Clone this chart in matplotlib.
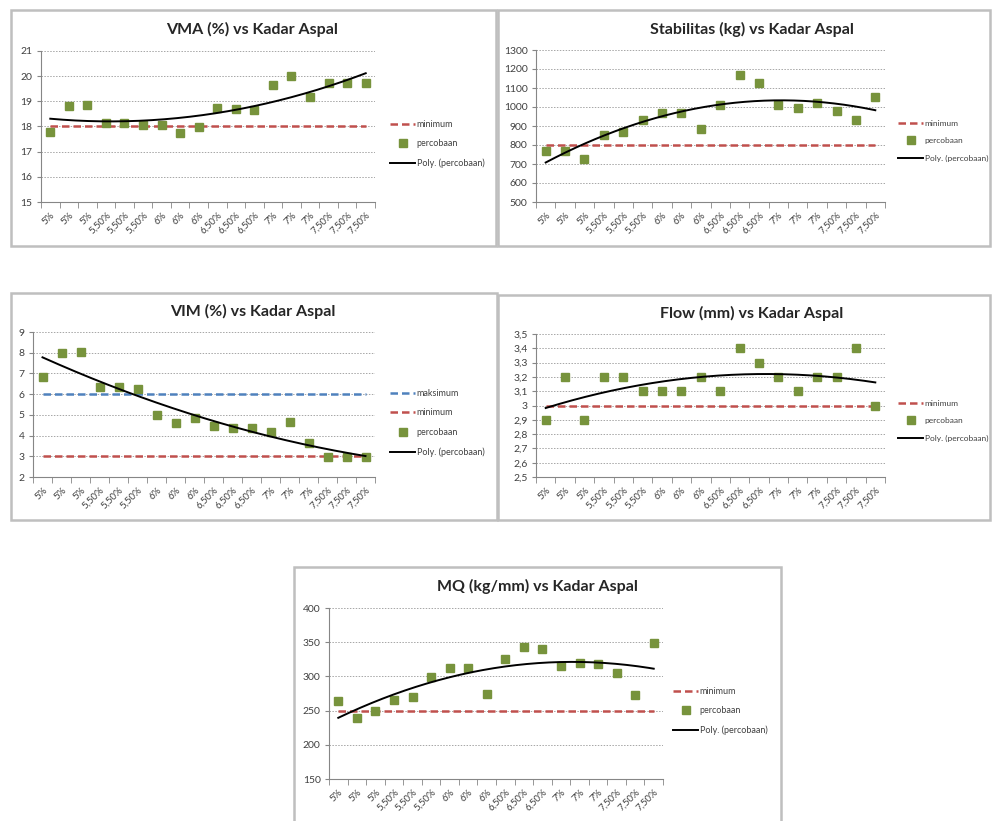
import matplotlib.pyplot as plt
import numpy as np
from matplotlib.patches import Rectangle

plt.rcParams['font.family'] = ['Lato', 'DejaVu Sans']

kadar = ['5%', '5%', '5%', '5,50%', '5,50%', '5,50%', '6%', '6%', '6%',
         '6,50%', '6,50%', '6,50%', '7%', '7%', '7%', '7,50%', '7,50%', '7,50%']

vma = [17.8, 18.82, 18.87, 18.12, 18.12, 18.06, 18.07, 17.75, 17.97,
       18.72, 18.68, 18.64, 19.63, 20.0, 19.18, 19.72, 19.71, 19.72]
stabilitas = [766, 766, 727, 853, 866, 932, 967, 971, 883,
              1011, 1169, 1127, 1011, 994, 1020, 981, 932, 1050]
vim = [6.84, 8.01, 8.05, 6.35, 6.35, 6.25, 5.0, 4.6, 4.86,
       4.46, 4.38, 4.35, 4.19, 4.64, 3.65, 2.95, 2.95, 2.98]
flow = [2.9, 3.2, 2.9, 3.2, 3.2, 3.1, 3.1, 3.1, 3.2,
        3.1, 3.4, 3.3, 3.2, 3.1, 3.2, 3.2, 3.4, 3.0]
mq = [264, 239, 250, 266, 269.5, 299.5, 312.6, 312.6, 274,
      325, 343, 340, 315.5, 320, 318.5, 305, 273, 349]

W, H = 992, 821
fig = plt.figure(figsize=(W / 100, H / 100), dpi=100)

red = '#C0504D'
blue = '#4F81BD'
green = '#77933C'
grey = '#868686'


def px_rect(l, t, r, b):
    return [l / W, (H - b) / H, (r - l) / W, (b - t) / H]


def frame(l, t, r, b):
    fig.add_artist(Rectangle((l / W, (H - b) / H), (r - l) / W, (b - t) / H,
                             transform=fig.transFigure, fill=False,
                             edgecolor='#BFBFBF', linewidth=1.8))


def panel(rect, title, title_xy, values, ylim, yticks, ytl, limits, leg_xy, leg_fs=6.5):
    ax = fig.add_axes(px_rect(*rect))
    x = np.arange(1, len(kadar) + 1)
    handles = []
    for val, color, name in limits:
        h, = ax.plot(x, [val] * len(x), color=color, linestyle=(0, (3, 1.6)),
                     linewidth=1.8, label=name)
        handles.append(h)
    pts, = ax.plot(x, values, linestyle='none', marker='s', markersize=5.5,
                   color=green, label='percobaan', zorder=4)
    # polynomial trendline, order 2 (like the Excel trendline)
    coef = np.polyfit(x, values, 2)
    xs = np.linspace(1, len(kadar), 200)
    tr, = ax.plot(xs, np.polyval(coef, xs), color='black', linewidth=1.4,
                  label='Poly. (percobaan)', zorder=5)
    handles += [pts, tr]

    ax.set_xlim(0.5, len(kadar) + 0.5)
    ax.set_ylim(*ylim)
    ax.set_yticks(yticks)
    ax.set_yticklabels(ytl)
    ax.set_xticks(x)
    ax.set_xticklabels(kadar, rotation=45, ha='right', rotation_mode='anchor')
    ax.set_xticks(np.arange(0.5, len(kadar) + 1), minor=True)
    ax.tick_params(axis='x', which='major', length=0, pad=6, labelsize=7, labelcolor='#404040')
    ax.tick_params(axis='x', which='minor', length=4, color=grey)
    ax.tick_params(axis='y', length=3, color=grey, labelsize=7.5, labelcolor='#404040', pad=3)
    ax.grid(axis='y', color='#A6A6A6', linestyle=(0, (1.5, 1.5)), linewidth=0.7)
    for s in ['top', 'right']:
        ax.spines[s].set_visible(False)
    for s in ['left', 'bottom']:
        ax.spines[s].set_color(grey)
        ax.spines[s].set_linewidth(0.8)
    ax.patch.set_alpha(0)

    fig.text(title_xy[0] / W, 1 - title_xy[1] / H, title, ha='center', va='center',
             fontsize=11.5, fontweight='bold', color='#262626')
    fig.legend(handles=handles, loc='upper left',
               bbox_to_anchor=(leg_xy[0] / W, 1 - leg_xy[1] / H),
               frameon=False, fontsize=leg_fs, handlelength=2.8 * 6.5 / leg_fs,
               handletextpad=0.15, labelspacing=1.15 * 6.5 / leg_fs,
               borderpad=0, borderaxespad=0, labelcolor='#404040')
    return ax


frame(11, 10, 496, 246)
frame(498, 10, 990, 246)
frame(11, 293, 497, 520)
frame(498, 295, 990, 520)
frame(294, 567, 781, 840)

panel((41, 51, 375, 202), 'VMA (%) vs Kadar Aspal', (252, 29), vma,
      (15, 21), range(15, 22), [str(v) for v in range(15, 22)],
      [(18, red, 'minimum')], (390, 120))

panel((536, 50, 885, 202), 'Stabilitas (kg) vs Kadar Aspal', (752, 29), stabilitas,
      (500, 1300), range(500, 1301, 100), [str(v) for v in range(500, 1301, 100)],
      [(800, red, 'minimum')], (898, 120), leg_fs=6.0)

panel((33, 332, 375, 477), 'VIM (%) vs Kadar Aspal', (253, 311), vim,
      (2, 9), range(2, 10), [str(v) for v in range(2, 10)],
      [(6, blue, 'maksimum'), (3, red, 'minimum')], (390, 389))

fticks = np.round(np.arange(2.5, 3.51, 0.1), 1)
panel((536, 334, 885, 477), 'Flow (mm) vs Kadar Aspal', (752, 313), flow,
      (2.5, 3.5), fticks, [('%g' % v).replace('.', ',') for v in fticks],
      [(3.0, red, 'minimum')], (898, 400), leg_fs=6.0)

panel((329, 608, 663, 779), 'MQ (kg/mm) vs Kadar Aspal', (537, 586), mq,
      (150, 400), range(150, 401, 50), [str(v) for v in range(150, 401, 50)],
      [(250, red, 'minimum')], (673, 687))

fig.savefig('out.png', dpi=100)
